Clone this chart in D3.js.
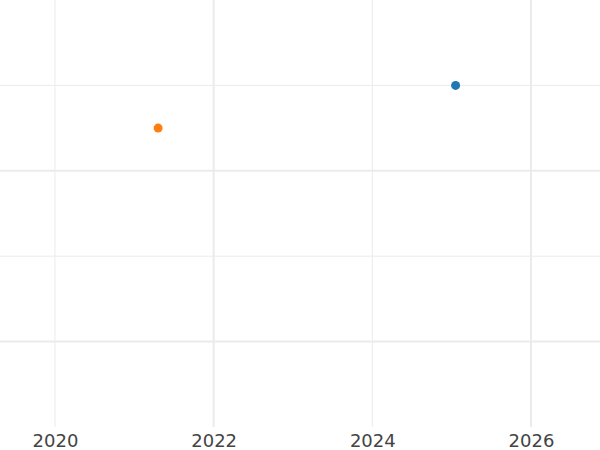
<!DOCTYPE html>
<html>
<head>
<meta charset="utf-8">
<script src="https://cdn.jsdelivr.net/npm/d3@7"></script>
<style>
  body { margin: 0; background: #fff; }
  svg { display: block; }
</style>
</head>
<body>
<script>
(function(){

// data
var years = [2025.05, 2021.3];
var values = [4.0, 3.5];
var colors = ["#1f77b4", "#ff7f0e"];
var xTicks = [2020, 2022, 2024, 2026];
var xMajor = [2022, 2026];
var yTicks = [1, 2, 3, 4];
var yMajor = [1, 3];

var width = 600,
    height = 450,
    plotBottom = 427;

var svg = d3.select("body")
    .append("svg")
    .attr("width", width)
    .attr("height", height);

var x = d3.scaleLinear()
    .domain([2019.307, 2026.87])
    .range([0, width]);

var y = d3.scaleLinear()
    .domain([0, 5])
    .range([plotBottom, 0]);

//vertical grid
svg.selectAll(".vgrid")
    .data(xTicks)
    .enter()
    .append("line")
    .attr("class", "vgrid")
    .attr("x1", function(d){ return x(d); })
    .attr("x2", function(d){ return x(d); })
    .attr("y1", 0)
    .attr("y2", plotBottom)
    .attr("stroke", "#ebebeb")
    .attr("stroke-width", function(d){ return xMajor.indexOf(d) >= 0 ? 2 : 1; });

//horizontal grid
svg.selectAll(".hgrid")
    .data(yTicks)
    .enter()
    .append("line")
    .attr("class", "hgrid")
    .attr("x1", 0)
    .attr("x2", width)
    .attr("y1", function(d){ return y(d); })
    .attr("y2", function(d){ return y(d); })
    .attr("stroke", "#ebebeb")
    .attr("stroke-width", function(d){ return yMajor.indexOf(d) >= 0 ? 2 : 1; });

//x axis labels
var xAxis = d3.axisBottom(x)
    .tickValues(xTicks)
    .tickFormat(d3.format("d"))
    .tickSize(0)
    .tickPadding(7);

var gx = svg.append("g")
    .attr("transform", "translate(0," + plotBottom + ")")
    .call(xAxis);
gx.select(".domain").remove();
gx.selectAll("text")
    .attr("font-family", "DejaVu Sans, sans-serif")
    .attr("font-size", 18)
    .attr("fill", "#444");

//points
svg.selectAll(".pt")
    .data(years)
    .enter()
    .append("circle")
    .attr("class", "pt")
    .attr("cx", function(d){ return x(d); })
    .attr("cy", function(d, i){ return y(values[i]); })
    .attr("r", 4.5)
    .attr("fill", function(d, i){ return colors[i]; });

})();
</script>
</body>
</html>
